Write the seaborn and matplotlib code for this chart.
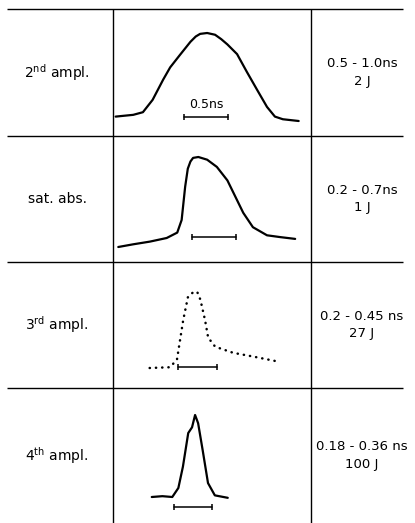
import numpy as np
import pandas as pd
import seaborn as sns
import matplotlib
matplotlib.use('Agg')
import matplotlib.pyplot as plt

# stage names and pulse figures
stages = ['2$^{nd}$ ampl.', 'sat. abs.', '3$^{rd}$ ampl.', '4$^{th}$ ampl.']
durations = ['0.5 - 1.0ns', '0.2 - 0.7ns', '0.2 - 0.45 ns', '0.18 - 0.36 ns']
energies = ['2 J', '1 J', '27 J', '100 J']

# pulse traces, time in ns, amplitude normalised to peak
t_2nd = [0.03, 0.23, 0.34, 0.45, 0.57, 0.65, 0.76, 0.88, 0.94, 0.99, 1.07, 1.16, 1.23,
         1.30, 1.41, 1.52, 1.64, 1.75, 1.84, 1.93, 2.11]
a_2nd = [0.05, 0.07, 0.10, 0.24, 0.47, 0.61, 0.75, 0.90, 0.96, 0.99, 1.00, 0.98, 0.93,
         0.87, 0.76, 0.56, 0.35, 0.16, 0.05, 0.02, 0.00]

t_sat = [0.06, 0.23, 0.42, 0.61, 0.73, 0.78, 0.82, 0.85, 0.88, 0.91, 0.97, 1.07, 1.18,
         1.30, 1.41, 1.48, 1.59, 1.75, 1.90, 2.07]
a_sat = [0.00, 0.03, 0.06, 0.10, 0.16, 0.30, 0.67, 0.87, 0.95, 0.99, 1.00, 0.97, 0.89,
         0.74, 0.52, 0.38, 0.22, 0.13, 0.11, 0.09]

t_3rd = [0.47, 0.73, 0.82, 0.86, 0.90, 0.96, 1.03, 1.08, 1.12, 1.18, 1.22, 1.31,
         1.54, 1.80, 2.14]
a_3rd = [0.00, 0.01, 0.11, 0.37, 0.63, 0.93, 1.00, 1.00, 0.90, 0.63, 0.40, 0.28,
         0.20, 0.15, 0.08]

t_4th = [0.51, 0.65, 0.78, 0.86, 0.92, 0.99, 1.04, 1.08, 1.12, 1.18, 1.25, 1.34, 1.51]
a_4th = [0.00, 0.01, 0.00, 0.11, 0.37, 0.78, 0.85, 1.00, 0.90, 0.57, 0.17, 0.02, -0.01]

times = [t_2nd, t_sat, t_3rd, t_4th]
amps = [a_2nd, a_sat, a_3rd, a_4th]

# 0.5 ns scale bars: start time and level
bar_start = [0.81, 0.90, 0.83, 0.80]
bar_level = [0.045, 0.11, 0.01, -0.12]

# layout in pixels
W, H = 415, 523
row_edges = [9, 136, 262, 388, 523]
col_edges = [113, 311]
px_per_ns = [88, 88, 78, 76]
base_px = [121, 247, 368, 497]
peak_px = [33, 157, 292, 415]

sns.set_theme(style='white')
plt.rcParams['font.family'] = ['DejaVu Sans']
plt.rcParams['mathtext.default'] = 'regular'
plt.rcParams['text.color'] = 'black'

fig = plt.figure(figsize=(W / 100, H / 100), dpi=100)
fig.patch.set_facecolor('white')

ax0 = fig.add_axes([0, 0, 1, 1])
ax0.set_xlim(0, W)
ax0.set_ylim(H, 0)
ax0.axis('off')

ax0.hlines(row_edges[:4], 7, 403, color='black', lw=1.0)
ax0.vlines(col_edges, 9, H, color='black', lw=1.0)

fs = 10
for i in range(4):
    yc = (row_edges[i] + row_edges[i + 1]) / 2
    ax0.text(57, yc, stages[i], ha='center', va='center', fontsize=fs, color='black')
    ax0.text(362, yc - 9, durations[i], ha='center', va='center', fontsize=9.5, color='black')
    ax0.text(362, yc + 9, energies[i], ha='center', va='center', fontsize=9.5, color='black')

cell_w = col_edges[1] - col_edges[0]
for i in range(4):
    top, bot = row_edges[i], row_edges[i + 1]
    ax = fig.add_axes([col_edges[0] / W, 1 - bot / H, cell_w / W, (bot - top) / H])
    ax.patch.set_visible(False)
    ax.axis('off')
    span = base_px[i] - peak_px[i]
    ax.set_xlim(0, cell_w / px_per_ns[i])
    ax.set_ylim((base_px[i] - bot) / span, (base_px[i] - top) / span)

    df = pd.DataFrame({'t': times[i], 'a': amps[i]})
    if i == 2:
        sns.lineplot(data=df, x='t', y='a', sort=False, estimator=None, ax=ax,
                     color='black', lw=1.8, linestyle=(0, (0.1, 2.4)),
                     dash_capstyle='round')
    else:
        sns.lineplot(data=df, x='t', y='a', sort=False, estimator=None, ax=ax,
                     color='black', lw=1.6)

    x0 = bar_start[i]
    ax.plot([x0, x0 + 0.5], [bar_level[i]] * 2, color='black', lw=1.1,
            marker='|', ms=5, mew=1.1)
    if i == 0:
        ax.text(x0 + 0.25, bar_level[i] + 0.14, '0.5ns', ha='center',
                va='center', fontsize=9, color='black')

fig.savefig('out.png', dpi=100, facecolor='white')
